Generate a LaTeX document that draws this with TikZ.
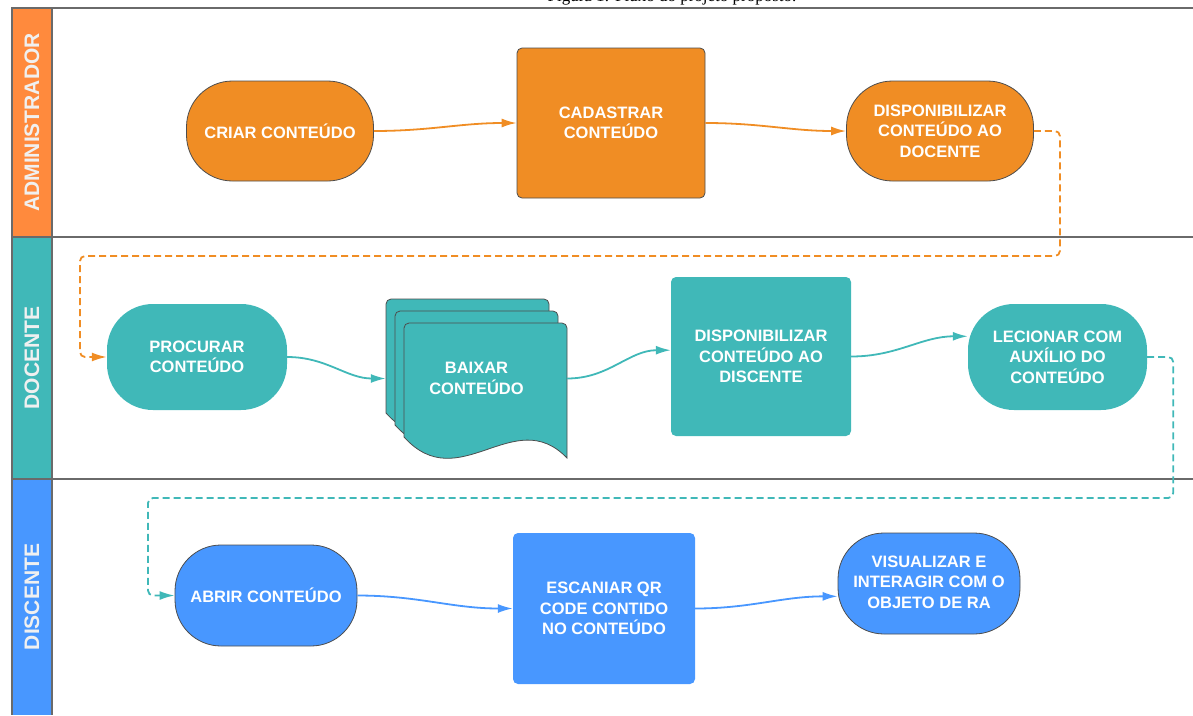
\documentclass[tikz,border=0pt]{standalone}
\usepackage{fontspec}
\setmainfont{Liberation Serif}
\newfontfamily\boxfont{Liberation Sans}
\usepackage{xcolor}
\usetikzlibrary{arrows.meta, positioning}

\definecolor{admorange}{HTML}{FF8A3D}
\definecolor{boxorange}{HTML}{F08D24}
\definecolor{docteal}{HTML}{40B8B8}
\definecolor{disblue}{HTML}{4897FF}
\definecolor{framegray}{HTML}{6A6A6A}
\definecolor{edgegray}{HTML}{4D4D4D}

\tikzset{
    task/.style={text=white, align=center, inner sep=0pt,
        font=\boxfont\bfseries\fontsize{16.5}{20.5}\selectfont},
    stadium/.style={task, rounded corners=46pt, minimum width=#1},
    stadium/.default=184pt,
    boxed/.style={task, rounded corners=5pt, minimum width=182pt},
    outline/.style={draw=edgegray, line width=0.8pt},
    lanelabel/.style={rotate=90, minimum height=40pt, inner sep=0pt, text=white!94!black,
        font=\boxfont\bfseries\fontsize{21}{25}\selectfont},
    flow/.style={line width=1.8pt, -{Latex[length=15pt, width=9pt]}},
    handoff/.style={flow, dash pattern=on 7pt off 4pt, rounded corners=5pt},
    docpage/.pic={
        \draw[outline, fill=docteal] (0,114) [rounded corners=5pt] -- (0,0) -- (163,0)
            [sharp corners] -- (163,135) .. controls (110,80) and (55,175) .. (0,114) -- cycle;
    }
}

\begin{document}
\begin{tikzpicture}[x=1pt, y=-1pt]

    \useasboundingbox (0,0) rectangle (1193,715);
    \clip (0,0) rectangle (1193,715);

    % Caption (cut by the page top)
    \node[anchor=base, font=\fontsize{17}{20}\selectfont] (caption) at (672,1.5)
        {Figura 1: Fluxo do projeto proposto.};

    % Lanes
    \node[lanelabel, fill=admorange, minimum width=229pt] (admin) at (32,122.5) {ADMINISTRADOR};
    \node[lanelabel, fill=docteal, minimum width=242pt] (docente) at (32,358) {DOCENTE};
    \node[lanelabel, fill=disblue, minimum width=236pt] (discente) at (32,597) {DISCENTE};

    \draw[framegray, line width=1.5pt] (1193,8) -- (12,8) -- (12,715);
    \draw[framegray, line width=1.5pt] (52,8) -- (52,715);
    \draw[framegray, line width=1.2pt] (12,237) -- (1193,237);
    \draw[framegray, line width=1.2pt] (12,479) -- (1193,479);

    % Administrador
    \node[stadium=187pt, outline, fill=boxorange, minimum height=100pt] (criar) at (280,131)
        {CRIAR CONTEÚDO};
    \node[boxed, outline, fill=boxorange, minimum width=188pt, minimum height=150pt] (cadastrar) at (611,123)
        {CADASTRAR\\CONTEÚDO};
    \node[stadium=187pt, outline, fill=boxorange, minimum height=100pt] (dispdoc) at (940,131)
        {DISPONIBILIZAR\\CONTEÚDO AO\\DOCENTE};

    \draw[flow, boxorange] (criar.east) to[out=0, in=180] (cadastrar.west);
    \draw[flow, boxorange] (cadastrar.east) to[out=0, in=180] (dispdoc.west);

    % Docente
    \node[stadium=180pt, fill=docteal, minimum height=106pt] (procurar) at (197,357)
        {PROCURAR\\CONTEÚDO};

    % stacked pages
    \pic at (386,299) {docpage};
    \pic at (395,311) {docpage};
    \pic at (404,323) {docpage};
    \node[task, minimum width=181pt, minimum height=159pt] (baixar) at (476.5,378.5)
        {BAIXAR\\CONTEÚDO};

    \node[boxed, fill=docteal, minimum width=180pt, minimum height=159pt] (dispdis) at (761,356.5)
        {DISPONIBILIZAR\\CONTEÚDO AO\\DISCENTE};
    \node[stadium=179pt, fill=docteal, minimum height=106pt] (lecionar) at (1057.5,357)
        {LECIONAR COM\\AUXÍLIO DO\\CONTEÚDO};

    \draw[flow, docteal] (procurar.east) to[out=0, in=180] (baixar.west);
    \draw[flow, docteal] (baixar.east) to[out=0, in=180] (dispdis.176);
    \draw[flow, docteal] (dispdis.east) to[out=0, in=180] (lecionar.167);

    % Discente
    \node[stadium=182pt, outline, fill=disblue, minimum height=101pt] (abrir) at (266,595.5)
        {ABRIR CONTEÚDO};
    \node[boxed, fill=disblue, minimum height=151pt] (escanear) at (604,608.5)
        {ESCANIAR QR\\CODE CONTIDO\\NO CONTEÚDO};
    \node[stadium=182pt, outline, fill=disblue, minimum height=101pt] (visualizar) at (929,583.5)
        {\raisebox{4pt}{\begin{tabular}{@{}c@{}}VISUALIZAR E\\INTERAGIR COM O\\OBJETO DE RA\end{tabular}}};

    \draw[flow, disblue] (abrir.east) to[out=0, in=180] (escanear.west);
    \draw[flow, disblue] (escanear.east) to[out=0, in=180] (visualizar.188);

    % Hand-offs between lanes
    \draw[handoff, boxorange] (dispdoc.east) -- ++(26,0) |- (80,256) |- (procurar.west);
    \draw[handoff, docteal] (lecionar.east) -- ++(26,0) |- (148,498) |- (abrir.west);

\end{tikzpicture}
\end{document}
